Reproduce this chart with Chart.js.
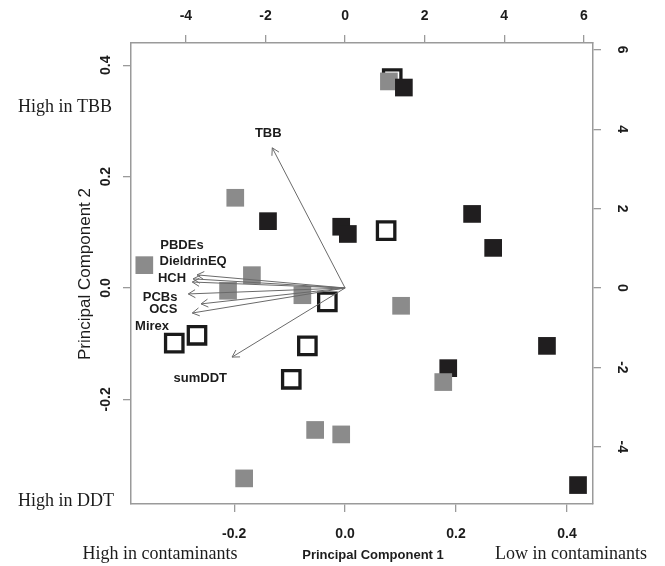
<!DOCTYPE html>
<html>
<head>
<meta charset="utf-8">
<script src="https://cdn.jsdelivr.net/npm/chart.js@4.4.0/dist/chart.umd.min.js"></script>
<style>
  html, body { margin: 0; padding: 0; background: #fff; }
</style>
</head>
<body>
<canvas id="pca" width="665" height="566"></canvas>
<script>
// site scores on PC1 / PC2 (bottom & left axes), drawing order = array order
const pc1 = [0.085, 0.079, 0.106, -0.139, -0.007, 0.005, 0.229, 0.267, 0.186, 0.364, 0.420,
  -0.198, -0.362, -0.168, -0.211, -0.077, 0.101, 0.177, -0.054, -0.007, -0.182,
  0.074, -0.032, -0.068, -0.097, -0.308, -0.267];
const pc2 = [0.376, 0.371, 0.360, 0.120, 0.110, 0.097, 0.133, 0.072, -0.144, -0.104, -0.354,
  0.162, 0.041, 0.023, -0.005, -0.013, -0.032, -0.169, -0.255, -0.263, -0.342,
  0.103, -0.025, -0.104, -0.164, -0.099, -0.085];
const grp = ["open", "gray", "black", "black", "black", "black", "black", "black", "black", "black", "black",
  "gray", "gray", "gray", "gray", "gray", "gray", "gray", "gray", "gray", "gray",
  "open", "open", "open", "open", "open", "open"];

// variable loadings (top & right axes)
const varNames = ["PBDEs", "DieldrinEQ", "HCH", "PCBs", "OCS", "Mirex", "sumDDT", "TBB"];
const loadX = [-3.72, -3.82, -3.84, -3.94, -3.62, -3.84, -2.84, -1.83];
const loadY = [0.33, 0.23, 0.15, -0.15, -0.40, -0.63, -1.74, 3.53];
const labelX = [-4.10, -3.82, -4.35, -4.65, -4.57, -4.85, -3.64, -1.93];
const labelY = [1.06, 0.68, 0.23, -0.23, -0.55, -0.96, -2.27, 3.90];

const bottomTicks = [-0.2, 0.0, 0.2, 0.4];
const leftTicks = [-0.2, 0.0, 0.2, 0.4];
const topTicks = [-4, -2, 0, 2, 4, 6];
const rightTicks = [-4, -2, 0, 2, 4, 6];

const fill = { black: "#201e1f", gray: "#8b8b8b", open: "rgba(0,0,0,0)" };

const axisGrid = { drawOnChartArea: false, drawTicks: true, tickLength: 8, color: "#9a9a9a", lineWidth: 1.3 };
const axisBorder = { display: true, color: "#9a9a9a", width: 1.5 };

function fixTicks(list) {
  return function (s) { s.ticks = list.map(v => ({ value: v })); };
}

const biplotText = {
  id: "biplotText",
  afterDatasetsDraw(chart) {
    const { ctx, scales } = chart;
    const ox = scales.x2.getPixelForValue(0);
    const oy = scales.y2.getPixelForValue(0);
    ctx.save();
    ctx.strokeStyle = "#6a6a6a";
    ctx.lineWidth = 1;
    varNames.forEach((n, i) => {
      const tx = scales.x2.getPixelForValue(loadX[i]);
      const ty = scales.y2.getPixelForValue(loadY[i]);
      const a = Math.atan2(ty - oy, tx - ox);
      const h = 8, w = Math.PI / 6;
      ctx.beginPath();
      ctx.moveTo(ox, oy);
      ctx.lineTo(tx, ty);
      ctx.moveTo(tx - h * Math.cos(a - w), ty - h * Math.sin(a - w));
      ctx.lineTo(tx, ty);
      ctx.lineTo(tx - h * Math.cos(a + w), ty - h * Math.sin(a + w));
      ctx.stroke();
    });
    ctx.fillStyle = "#1c1c1c";
    ctx.font = 'bold 13px "Liberation Sans", Arial, sans-serif';
    ctx.textAlign = "center";
    ctx.textBaseline = "middle";
    varNames.forEach((n, i) => {
      ctx.fillText(n, scales.x2.getPixelForValue(labelX[i]), scales.y2.getPixelForValue(labelY[i]));
    });
    ctx.restore();
  },
  afterDraw(chart) {
    const { ctx, scales, chartArea: area } = chart;
    ctx.save();
    ctx.fillStyle = "#1c1c1c";
    ctx.textAlign = "center";
    ctx.textBaseline = "middle";
    ctx.font = 'bold 14px "Liberation Sans", Arial, sans-serif';
    bottomTicks.forEach(v => ctx.fillText(v.toFixed(1), scales.x.getPixelForValue(v), area.bottom + 30));
    topTicks.forEach(v => ctx.fillText(String(v), scales.x2.getPixelForValue(v), area.top - 27));
    leftTicks.forEach(v => {
      ctx.save();
      ctx.translate(area.left - 25, scales.y.getPixelForValue(v));
      ctx.rotate(-Math.PI / 2);
      ctx.fillText(v.toFixed(1), 0, 0);
      ctx.restore();
    });
    rightTicks.forEach(v => {
      ctx.save();
      ctx.translate(area.right + 29, scales.y2.getPixelForValue(v));
      ctx.rotate(Math.PI / 2);
      ctx.fillText(String(v), 0, 0);
      ctx.restore();
    });

    ctx.font = 'bold 13px "Liberation Sans", Arial, sans-serif';
    ctx.fillText("Principal Component 1", 373, 555);
    ctx.save();
    ctx.translate(85, 274);
    ctx.rotate(-Math.PI / 2);
    ctx.font = '17px "Liberation Sans", Arial, sans-serif';
    ctx.fillText("Principal Component 2", 0, 0);
    ctx.restore();

    ctx.font = '18px "Liberation Serif", "Times New Roman", serif';
    ctx.fillText("High in TBB", 65, 107);
    ctx.fillText("High in DDT", 66, 501);
    ctx.fillText("High in contaminants", 160, 554);
    ctx.fillText("Low in contaminants", 571, 554);
    ctx.restore();
  }
};

new Chart(document.getElementById("pca"), {
  type: "scatter",
  data: {
    datasets: [{
      label: "sites",
      data: pc1.map((x, i) => ({ x: x, y: pc2[i] })),
      pointStyle: "rect",
      pointRadius: ctx => (grp[ctx.dataIndex] === "open" ? 12.3 : 12.5),
      pointHoverRadius: ctx => (grp[ctx.dataIndex] === "open" ? 12.3 : 12.5),
      backgroundColor: ctx => fill[grp[ctx.dataIndex]],
      borderColor: "#1a1a1a",
      borderWidth: ctx => (grp[ctx.dataIndex] === "open" ? 3.3 : 0),
      xAxisID: "x",
      yAxisID: "y"
    }]
  },
  options: {
    responsive: false,
    animation: false,
    layout: { padding: 0 },
    plugins: { legend: { display: false }, tooltip: { enabled: false } },
    scales: {
      x: {
        type: "linear", position: "bottom", min: -0.386, max: 0.447,
        afterBuildTicks: fixTicks(bottomTicks),
        afterFit: s => { s.height = 62; },
        ticks: { display: false },
        grid: axisGrid, border: axisBorder
      },
      y: {
        type: "linear", position: "left", min: -0.388, max: 0.440,
        afterBuildTicks: fixTicks(leftTicks),
        afterFit: s => { s.width = 131; },
        ticks: { display: false },
        grid: axisGrid, border: axisBorder
      },
      x2: {
        type: "linear", position: "top", min: -5.38, max: 6.23,
        afterBuildTicks: fixTicks(topTicks),
        afterFit: s => { s.height = 43; },
        ticks: { display: false },
        grid: axisGrid, border: axisBorder
      },
      y2: {
        type: "linear", position: "right", min: -5.44, max: 6.17,
        afterBuildTicks: fixTicks(rightTicks),
        afterFit: s => { s.width = 72; },
        ticks: { display: false },
        grid: axisGrid, border: axisBorder
      }
    }
  },
  plugins: [biplotText]
});
</script>
</body>
</html>
